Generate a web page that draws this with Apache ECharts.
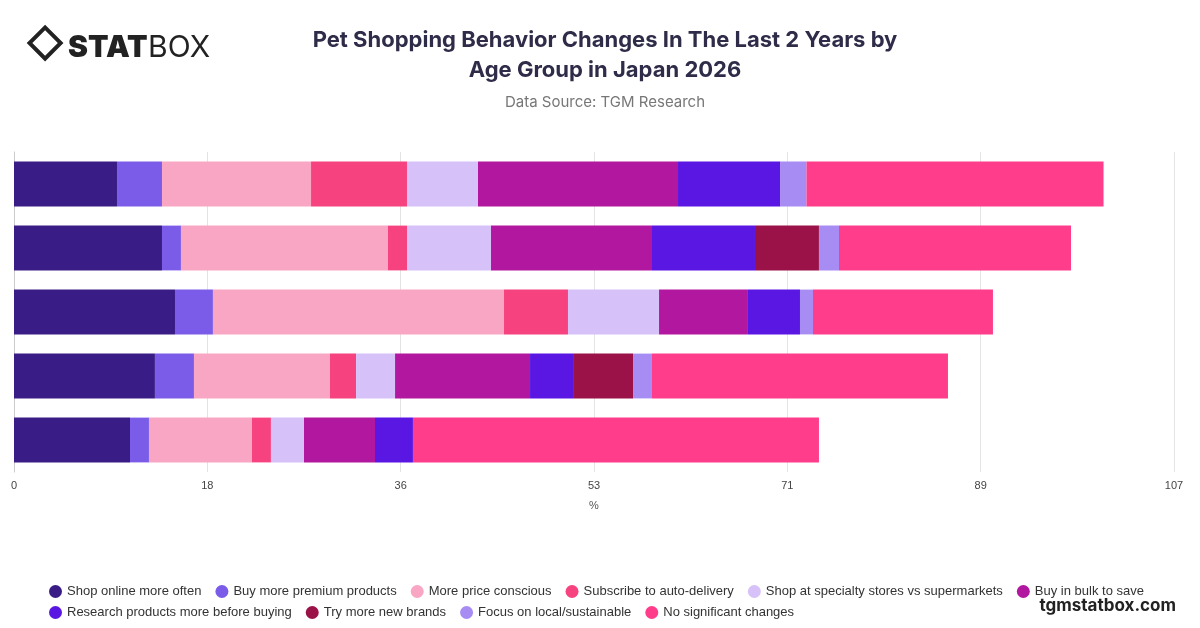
<!DOCTYPE html>
<html><head><meta charset="utf-8">
<script src="https://cdn.jsdelivr.net/npm/echarts@6/dist/echarts.min.js"></script>
<style>html,body{margin:0;padding:0;background:#fff}#c{width:1200px;height:628px}</style>
</head><body><div id="c"></div>
<script>
const categories = ['18-24','25-34','35-44','45-54','55+'];
const seriesNames = ['Shop online more often','Buy more premium products','More price conscious','Subscribe to auto-delivery','Shop at specialty stores vs supermarkets','Buy in bulk to save','Research products more before buying','Try more new brands','Focus on local/sustainable','No significant changes'];
const shopOnline = [9.5,13.65,14.85,13.0,10.7];
const premium = [4.15,1.75,3.5,3.6,1.75];
const priceConscious = [13.75,19.1,26.85,12.55,9.5];
const autoDelivery = [8.85,1.75,5.9,2.4,1.75];
const specialty = [6.55,7.75,8.4,3.6,3.05];
const bulk = [18.45,14.85,8.2,12.45,6.55];
const research = [9.45,9.5,4.8,4.05,3.5];
const newBrands = [0,5.9,0,5.45,0];
const local = [2.4,1.85,1.2,1.75,0];
const noChange = [27.4,21.4,16.6,27.3,37.45];
const tickLabels = ['0','18','36','53','71','89','107'];
const values = [shopOnline,premium,priceConscious,autoDelivery,specialty,bulk,research,newBrands,local,noChange];
const colors = ['#3a1c86','#7b5ce9','#f9a6c4','#f6427f','#d6c2f8','#b2189f','#5a17e3','#9a1247','#a78cf3','#ff3d8b'];
const chart = echarts.init(document.getElementById('c'));
const legendBase = {left:49,width:1150,itemWidth:13,itemHeight:13,icon:'circle',itemGap:14,padding:0,
    textStyle:{fontFamily:'Liberation Sans',fontSize:13,color:'#333'}};
chart.setOption({
  animation:false,
  color:colors,
  title:[{text:'Pet Shopping Behavior Changes In The Last 2 Years by\nAge Group in Japan 2026',left:600,top:20,textAlign:'center',
    textStyle:{fontFamily:'Inter',fontSize:22,fontWeight:'bold',color:'#2e2c48',lineHeight:30},
    subtext:'Data Source: TGM Research',itemGap:10,subtextStyle:{fontFamily:'Inter',fontSize:15,color:'#777'}}],
  graphic:[
    {type:'group',left:26,top:24,children:[
      {type:'rect',shape:{x:6,y:0,width:22,height:22},rotation:Math.PI/4,originX:17,originY:11,style:{fill:'none',stroke:'#222',lineWidth:4}},
      {type:'text',style:{x:40,y:1,text:'STAT',font:'900 30px Inter',fill:'#222'}},
      {type:'text',style:{x:120,y:1,text:'BOX',font:'400 30px Inter',fill:'#222'}}
    ]},
    {type:'text',right:24,top:597,style:{text:'tgmstatbox.com',font:'bold 17px Inter',fill:'#222'}}
  ],
  legend:[Object.assign({top:585,data:seriesNames.slice(0,6)},legendBase),
          Object.assign({top:606,data:seriesNames.slice(6)},legendBase)],
  grid:{left:14,right:26,top:152,bottom:156},
  xAxis:{type:'value',min:0,max:107,interval:107/6,name:'%',nameLocation:'middle',nameGap:28,
    nameTextStyle:{fontSize:11,color:'#555'},
    axisLabel:{fontSize:11,color:'#444',margin:8,formatter:(v)=>tickLabels[Math.round(v/(107/6))]},
    splitLine:{lineStyle:{color:'#e4e4e4'}},axisLine:{show:false},axisTick:{show:false}},
  yAxis:{type:'category',data:categories,inverse:true,axisLabel:{show:false},axisTick:{show:false},
    axisLine:{show:true,lineStyle:{color:'#ccc'}}},
  series:seriesNames.map((n,i)=>({name:n,type:'bar',stack:'a',barWidth:'70%',data:values[i]}))
});
</script></body></html>
